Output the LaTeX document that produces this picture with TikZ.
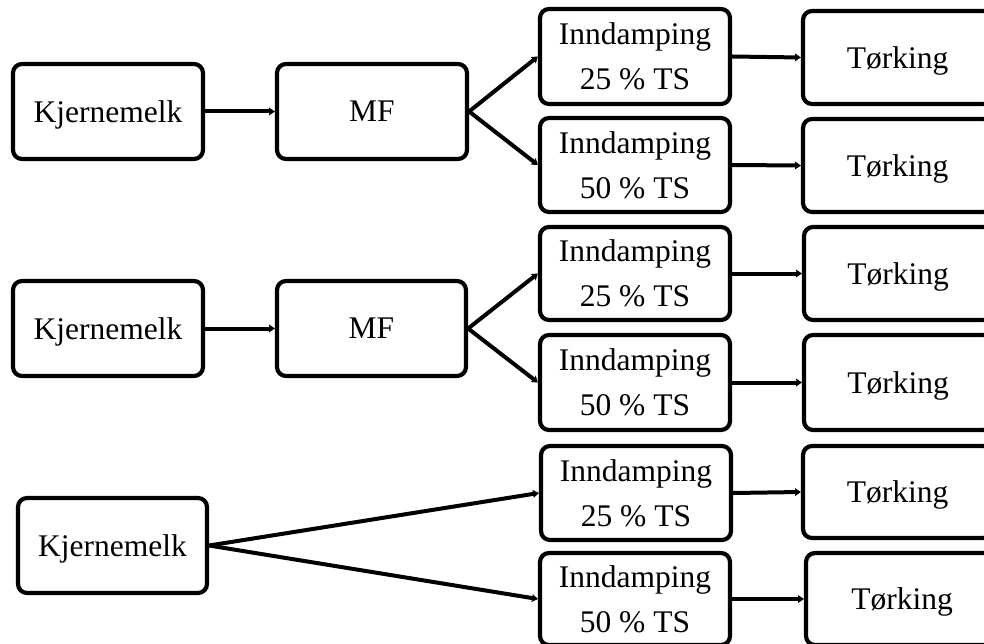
\documentclass[tikz,border=0pt]{standalone}
\usepackage{fontspec}
\setmainfont{Liberation Serif}
\usetikzlibrary{arrows.meta}
\tikzset{
  box/.style={draw=black, line width=4.2pt, rounded corners=9pt, fill=white,
    inner sep=0pt, align=center, text depth=0pt,
    font=\fontsize{31.5}{45}\selectfont},
  flow/.style={line width=4pt, -{Stealth[length=6pt,width=8pt,inset=1pt]}}
}
\begin{document}
\begin{tikzpicture}[x=1pt,y=-1pt]
\useasboundingbox (0,0) rectangle (984,644);
\clip (0,0) rectangle (984,644);
% row 1
\node[box, minimum width=190pt, minimum height=95pt] (k1) at (108,111.5) {Kjernemelk};
\node[box, minimum width=190pt, minimum height=95pt] (m1) at (372,111.5) {MF};
\node[box, minimum width=190pt, minimum height=95pt] (i1a) at (635,56.5) {Inndamping\\25 \% TS};
\node[box, minimum width=190pt, minimum height=94pt] (i1b) at (635,165) {Inndamping\\50 \% TS};
\node[box, minimum width=189pt, minimum height=93pt] (t1a) at (897.5,57.5) {Tørking};
\node[box, minimum width=189pt, minimum height=93pt] (t1b) at (897.5,165.5) {Tørking};
% row 2
\node[box, minimum width=190pt, minimum height=95pt] (k2) at (108,328.5) {Kjernemelk};
\node[box, minimum width=189pt, minimum height=95pt] (m2) at (371.5,328.5) {MF};
\node[box, minimum width=190pt, minimum height=93pt] (i2a) at (635,273.5) {Inndamping\\25 \% TS};
\node[box, minimum width=190pt, minimum height=95pt] (i2b) at (635,382.5) {Inndamping\\50 \% TS};
\node[box, minimum width=188pt, minimum height=93pt] (t2a) at (898,273.5) {Tørking};
\node[box, minimum width=188pt, minimum height=95pt] (t2b) at (898,382.5) {Tørking};
% row 3
\node[box, minimum width=189pt, minimum height=95pt] (k3) at (112.5,545.5) {Kjernemelk};
\node[box, minimum width=190pt, minimum height=94pt] (i3a) at (636,493) {Inndamping\\25 \% TS};
\node[box, minimum width=190pt, minimum height=92pt] (i3b) at (635,599) {Inndamping\\50 \% TS};
\node[box, minimum width=189pt, minimum height=92pt] (t3a) at (897.5,492) {Tørking};
\node[box, minimum width=192pt, minimum height=92pt] (t3b) at (902,599) {Tørking};
% connectors
\draw[flow] (k1.east) -- (m1.west);
\draw[flow] (m1.east) -- (i1a.west);
\draw[flow] (m1.east) -- (i1b.west);
\draw[flow] (i1a.east) -- (t1a.west);
\draw[flow] (i1b.east) -- (t1b.west);
\draw[flow] (k2.east) -- (m2.west);
\draw[flow] (m2.east) -- (i2a.west);
\draw[flow] (m2.east) -- (i2b.west);
\draw[flow] (i2a.east) -- (t2a.west);
\draw[flow] (i2b.east) -- (t2b.west);
\draw[flow] (k3.east) -- (i3a.west);
\draw[flow] (k3.east) -- (i3b.west);
\draw[flow] (i3a.east) -- (t3a.west);
\draw[flow] (i3b.east) -- (t3b.west);
\end{tikzpicture}
\end{document}
